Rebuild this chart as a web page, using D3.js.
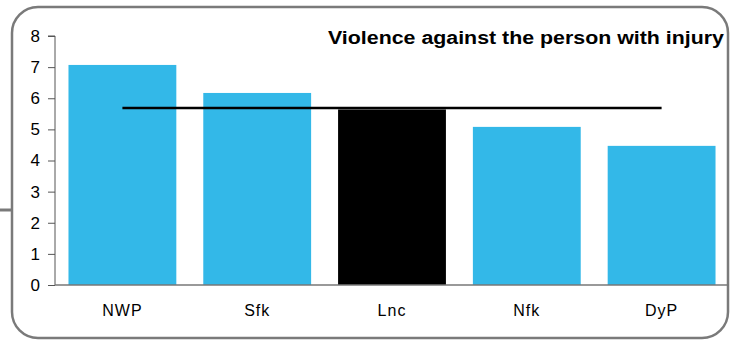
<!DOCTYPE html>
<html><head><meta charset="utf-8">
<script src="https://cdn.jsdelivr.net/npm/d3@7"></script>
<style>
html,body{margin:0;padding:0;background:#fff;}
svg{display:block;font-family:"Liberation Sans",Arial,sans-serif;}
</style></head>
<body>
<svg id="c" width="731" height="342"></svg>
<script>
const categories = ["NWP", "Sfk", "Lnc", "Nfk", "DyP"];
const values = [7.07, 6.17, 5.64, 5.08, 4.47];
const highlight = ["Lnc"];
const averageValue = 5.69;
const yTicks = [0, 1, 2, 3, 4, 5, 6, 7, 8];
const title = "Violence against the person with injury";

const svg = d3.select("#c");

// frame
svg.append("rect").attr("x", 12).attr("y", 7).attr("width", 716).attr("height", 331)
  .attr("rx", 26).attr("ry", 26).attr("fill", "#fff").attr("stroke", "#7a7a7a").attr("stroke-width", 2.5);
svg.append("line").attr("x1", 0).attr("x2", 12).attr("y1", 210).attr("y2", 210)
  .attr("stroke", "#7a7a7a").attr("stroke-width", 3);

const x0 = 55, x1 = 729, yTop = 36, yBot = 285;
const x = d3.scaleBand().domain(categories).range([x0, x1]).paddingInner(0.2).paddingOuter(0.1);
const y = d3.scaleLinear().domain([0, 8]).range([yBot, yTop]);

// bars
svg.append("g").selectAll("rect").data(categories).join("rect")
  .attr("x", d => x(d)).attr("width", x.bandwidth())
  .attr("y", (d, i) => y(values[i])).attr("height", (d, i) => yBot - y(values[i]))
  .attr("fill", d => highlight.includes(d) ? "#000" : "#33b8e8");

// y axis
const ya = svg.append("g").attr("transform", `translate(${x0},0)`)
  .call(d3.axisLeft(y).tickValues(yTicks).tickSize(7).tickPadding(8).tickFormat(d3.format("d")));
ya.select(".domain").attr("stroke", "#555").attr("d", `M-7,${yTop}H0V${yBot}`);
ya.selectAll(".tick line").attr("stroke", "#555");
ya.selectAll(".tick text").attr("font-size", 17).attr("fill", "#000")
  .attr("font-family", "Liberation Sans, Arial, sans-serif");

// x axis
const xa = svg.append("g").attr("transform", `translate(0,${yBot})`)
  .call(d3.axisBottom(x).tickSize(0).tickPadding(20));
xa.select(".domain").attr("stroke", "#777").attr("stroke-width", 1.5).attr("d", `M${x0},0H${x1}`);
xa.selectAll(".tick text").attr("font-size", 16).attr("letter-spacing", 1).attr("fill", "#000")
  .attr("font-family", "Liberation Sans, Arial, sans-serif");

// average line
const first = categories[0], last = categories[categories.length - 1];
svg.append("line")
  .attr("x1", x(first) + x.bandwidth() / 2).attr("x2", x(last) + x.bandwidth() / 2)
  .attr("y1", y(averageValue)).attr("y2", y(averageValue))
  .attr("stroke", "#000").attr("stroke-width", 2.5);

// title
svg.append("text").attr("x", 724).attr("y", 43.5).attr("text-anchor", "end")
  .attr("font-size", 18).attr("font-weight", "bold").attr("fill", "#000")
  .attr("textLength", 396).attr("lengthAdjust", "spacingAndGlyphs").text(title);
</script>
</body></html>
